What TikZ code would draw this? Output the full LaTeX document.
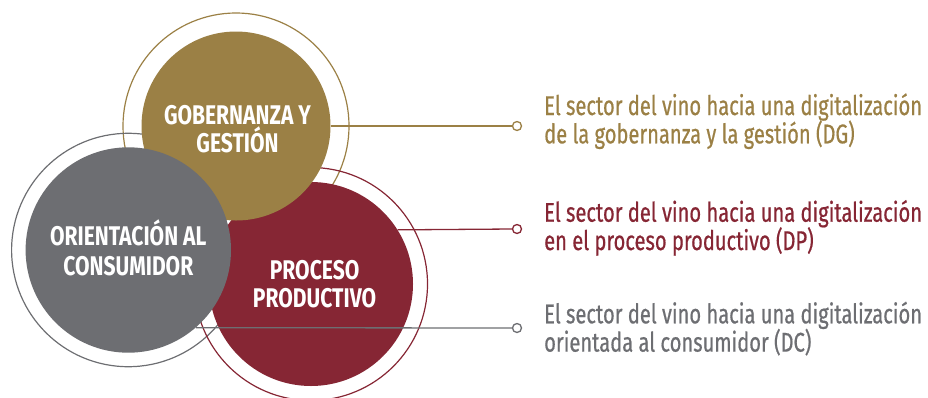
\documentclass[tikz,border=0pt]{standalone}
\usepackage{fontspec}
\setmainfont{Fira Sans}[FakeStretch=0.74]
\newfontfamily\descfont{Fira Sans}[FakeStretch=0.745, FakeBold=0.6]
\newfontfamily\labfont{Fira Sans}[FakeStretch=0.78]
\definecolor{gold}{RGB}{155,128,69}
\definecolor{wine}{RGB}{134,38,52}
\definecolor{slate}{RGB}{109,110,114}
\begin{document}
\begin{tikzpicture}[x=1pt,y=-1pt,
  ring/.style={circle, draw=#1, line width=1.2pt, inner sep=0pt},
  disc/.style={circle, fill=#1, draw=none, inner sep=0pt},
  enddot/.style={circle, draw=#1, fill=white, line width=1.3pt, minimum size=9pt, inner sep=0pt},
  conn/.style={draw=#1, line width=1.3pt},
  lab/.style={text=white, font=\labfont\bfseries\fontsize{27}{28}\selectfont, anchor=base, inner sep=0pt},
  desc/.style={text=#1, font=\descfont\fontsize{27}{28}\selectfont, anchor=base west, inner sep=0pt}]
\useasboundingbox (0,0) rectangle (928,397);
% rings
\node[ring=gold, minimum size=226pt] (gring) at (236,126) {};
\node[ring=slate, minimum size=233.4pt] (cring) at (128.3,250) {};
\node[ring=wine, minimum size=233pt] (pring) at (311,284) {};
% discs
\node[disc=wine, minimum size=204pt] (pdisc) at (311,284) {};
\node[disc=gold, minimum size=189pt] (gdisc) at (236,126) {};
\node[disc=slate, minimum size=205.4pt] (cdisc) at (128.3,250) {};
% end dots
\node[enddot=gold] (gdot) at (517,126) {};
\node[enddot=wine] (pdot) at (517,229) {};
\node[enddot=slate] (cdot) at (517,328) {};
% connectors
\draw[conn=gold] (gdisc.east) -- (gdot.west);
\draw[conn=wine] (pdisc.32.6) -- (pdot.west);
\draw[conn=slate] (cdisc.-49.4) -- (cdot.west);
% circle labels
\node[lab] (g1) at (237.5,124.3) {GOBERNANZA Y};
\node[lab] (g2) at (237.5,152) {GESTIÓN};
\node[lab] (c1) at (128.3,245.5) {ORIENTACIÓN AL};
\node[lab] (c2) at (128.3,275.5) {CONSUMIDOR};
\node[lab] (p1) at (314.6,279) {PROCESO};
\node[lab] (p2) at (314.6,307) {PRODUCTIVO};
% descriptions
\node[desc=gold] (dg1) at (544,115) {El sector del vino hacia una digitalización};
\node[desc=gold] (dg2) at (544,143.3) {de la gobernanza y la gestión (DG)};
\node[desc=wine] (dp1) at (544,221.7) {El sector del vino hacia una digitalización};
\node[desc=wine] (dp2) at (544,250) {en el proceso productivo (DP)};
\node[desc=slate] (dc1) at (544,323.3) {El sector del vino hacia una digitalización};
\node[desc=slate] (dc2) at (544,351.6) {orientada al consumidor (DC)};
\end{tikzpicture}
\end{document}
